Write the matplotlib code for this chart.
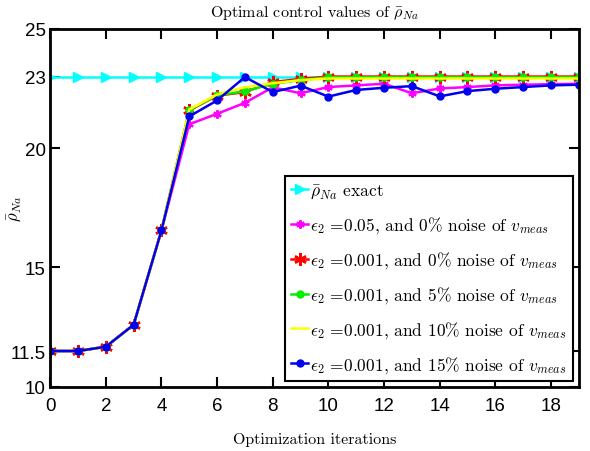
import matplotlib
matplotlib.use("Agg")
import matplotlib.pyplot as plt
import numpy as np

plt.rcParams['mathtext.fontset'] = 'cm'
plt.rcParams['font.family'] = ['cmr10', 'DejaVu Serif']
plt.rcParams['axes.formatter.use_mathtext'] = True

iters = list(range(20))
exact = [23.0] * 20
eps005_0 = [11.5, 11.5, 11.68, 12.6, 16.55, 21.0, 21.44, 21.9, 22.55, 22.3,
            22.56, 22.63, 22.7, 22.3, 22.5, 22.56, 22.63, 22.66, 22.68, 22.7]
eps0001_0 = [11.5, 11.5, 11.68, 12.6, 16.55, 21.58, 22.2, 22.35, 22.77, 22.9,
             23.0, 23.0, 23.0, 23.0, 23.0, 23.0, 23.0, 23.0, 23.0, 23.0]
eps0001_5 = [11.5, 11.5, 11.68, 12.6, 16.55, 21.6, 22.22, 22.38, 22.7, 22.85,
             22.97, 22.97, 22.97, 22.97, 22.97, 22.97, 22.97, 22.97, 22.97, 22.97]
eps0001_10 = [11.5, 11.5, 11.68, 12.6, 16.55, 21.62, 22.25, 22.55, 22.72, 22.85,
              22.92, 22.92, 22.92, 22.92, 22.92, 22.92, 22.92, 22.92, 22.92, 22.92]
eps0001_15 = [11.5, 11.5, 11.68, 12.6, 16.55, 21.33, 22.0, 22.98, 22.35, 22.62,
              22.16, 22.44, 22.53, 22.6, 22.17, 22.39, 22.49, 22.56, 22.63, 22.66]

labels = [
    r'$\bar{\rho}_{Na}$ exact',
    r'$\epsilon_2$ =0.05, and 0% noise of $v_{meas}$',
    r'$\epsilon_2$ =0.001, and 0% noise of $v_{meas}$',
    r'$\epsilon_2$ =0.001, and 5% noise of $v_{meas}$',
    r'$\epsilon_2$ =0.001, and 10% noise of $v_{meas}$',
    r'$\epsilon_2$ =0.001, and 15% noise of $v_{meas}$',
]
xticks = [0, 2, 4, 6, 8, 10, 12, 14, 16, 18]
yticks = [10, 11.5, 15, 20, 23, 25]
yticklabels = ['10', '11.5', '15', '20', '23', '25']

fig = plt.figure(figsize=(5.9, 4.52), dpi=100)
ax = fig.add_axes([0.085, 0.142, 0.896, 0.792])

lw = 1.8
ax.plot(iters, exact, color='#00ffff', lw=lw, marker='>', ms=7, label=labels[0])
ax.plot(iters, eps005_0, color='#ff00ff', lw=lw, marker=(6, 2, 0), ms=6, mew=1.5, label=labels[1])
ax.plot(iters, eps0001_0, color='#ff0000', lw=lw, marker=(6, 2, 0), ms=9, mew=1.8, label=labels[2])
ax.plot(iters, eps0001_5, color='#00ee00', lw=lw, marker='o', ms=5, label=labels[3])
ax.plot(iters, eps0001_10, color='#ffff00', lw=lw, label=labels[4])
ax.plot(iters, eps0001_15, color='#0000ee', lw=lw, marker='o', ms=5, label=labels[5])

ax.set_xlim(0, 19)
ax.set_ylim(10, 25)
ax.set_xticks(xticks)
ax.set_yticks(yticks)
ax.set_xticklabels([str(t) for t in xticks])
ax.set_yticklabels(yticklabels)
for lab in ax.get_xticklabels() + ax.get_yticklabels():
    lab.set_family(['Liberation Sans Narrow', 'Liberation Sans', 'DejaVu Sans'])
    lab.set_fontsize(13.5)
ax.tick_params(direction='in', length=7, width=1.5, top=True, right=True)
ax.tick_params(axis='x', pad=7)
ax.tick_params(axis='y', pad=3)
for s in ax.spines.values():
    s.set_linewidth(2)

ax.set_title('Optimal control values of ' + r'$\bar{\rho}_{Na}$', fontsize=11.5, pad=9)
ax.set_xlabel('Optimization iterations', fontsize=11.5, labelpad=13)
ax.set_ylabel(r'$\bar{\rho}_{Na}$', fontsize=12)
ax.yaxis.set_label_coords(-0.05, 0.5)

leg = ax.legend(loc='lower right', fontsize=12.5, handlelength=1.0, handletextpad=0.1,
                labelspacing=0.8, borderpad=0.35, fancybox=False, framealpha=1,
                edgecolor='black', borderaxespad=0.35)
leg.get_frame().set_linewidth(1.5)

fig.savefig('out.png', dpi=100)
